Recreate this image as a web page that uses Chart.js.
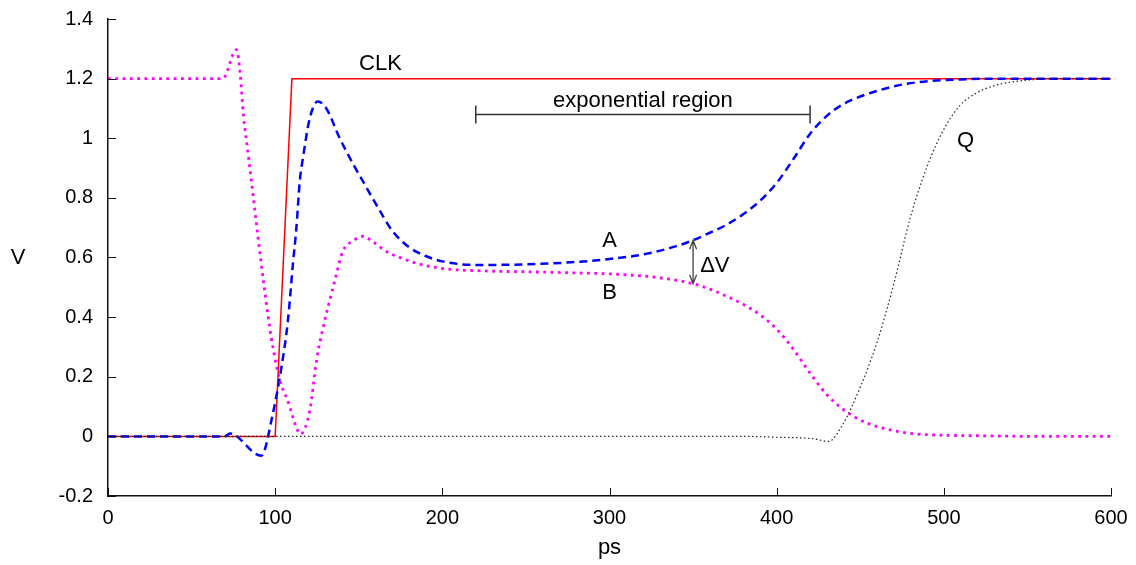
<!DOCTYPE html>
<html>
<head>
<meta charset="utf-8">
<script src="https://cdn.jsdelivr.net/npm/chart.js@4/dist/chart.umd.min.js"></script>
<style>
  html, body { margin: 0; padding: 0; background: #fff; }
  #wrap { width: 1136px; height: 565px; }
</style>
</head>
<body>
<div id="wrap"><canvas id="myChart"></canvas></div>
<script>
// time axis (ps) and voltages (V) of each node
const clkT = [0, 100, 110, 600];
const clkV = [0, 0, 1.2, 1.2];

const aT = [0, 70, 72.8, 91.7, 98.6, 103.7, 107.6, 110.6, 112.7, 114.7, 116.6, 120.7, 125.5, 130.6, 138.6, 146.5, 154.6, 162.6, 170, 180, 190, 200, 220, 250, 280, 300, 320, 340, 350, 360, 370, 380, 390, 400, 410, 420, 430, 440, 450, 462, 475, 492, 510, 530, 560, 600];
const aV = [0, 0, 0.01, -0.065, 0.076, 0.23, 0.387, 0.577, 0.70, 0.855, 0.933, 1.067, 1.123, 1.10, 1.0, 0.915, 0.835, 0.757, 0.69, 0.635, 0.605, 0.587, 0.575, 0.577, 0.585, 0.595, 0.61, 0.638, 0.658, 0.683, 0.71, 0.745, 0.79, 0.85, 0.93, 1.015, 1.075, 1.115, 1.14, 1.162, 1.18, 1.192, 1.197, 1.2, 1.2, 1.2];

const bT = [0, 68.6, 76.8, 79, 81, 84, 87, 89.5, 93.7, 97.7, 102.7, 107.5, 112.7, 115, 120.7, 124.7, 129.6, 135.6, 140.4, 146.4, 152.4, 158, 166.6, 174.6, 185, 200, 225, 250, 275, 300, 320, 335, 350, 360, 370, 380, 390, 400, 410, 420, 430, 440, 450, 462, 482, 522, 560, 600];
const bV = [1.2, 1.2, 1.297, 1.22, 1.08, 0.94, 0.80, 0.68, 0.49, 0.33, 0.19, 0.12, 0.03, 0.008, 0.086, 0.253, 0.387, 0.52, 0.62, 0.655, 0.671, 0.655, 0.62, 0.6, 0.58, 0.563, 0.555, 0.552, 0.549, 0.545, 0.538, 0.528, 0.512, 0.494, 0.47, 0.443, 0.408, 0.36, 0.292, 0.212, 0.14, 0.09, 0.055, 0.03, 0.009, 0.002, 0, 0];

const qT = [0, 380, 400, 422, 431, 440, 450, 460, 470, 480, 490, 500, 510, 520, 530, 545, 570, 600];
const qV = [0, 0, -0.003, -0.008, -0.017, 0.045, 0.165, 0.315, 0.51, 0.735, 0.905, 1.03, 1.112, 1.153, 1.176, 1.192, 1.2, 1.2];

const xTicks = [0, 100, 200, 300, 400, 500, 600];
const yTicks = [-0.2, 0, 0.2, 0.4, 0.6, 0.8, 1, 1.2, 1.4];

// text notes in data coordinates
const notes = [
  { text: 'CLK', x: 163, y: 1.25 },
  { text: 'exponential region', x: 320, y: 1.126 },
  { text: 'A', x: 300, y: 0.655 },
  { text: 'B', x: 300, y: 0.48 },
  { text: 'ΔV', x: 363, y: 0.571 },
  { text: 'Q', x: 513, y: 0.992 },
];
const regionBar = { from: 220, to: 420, y: 1.08 };
const deltaV = { x: 350, top: 0.658, bottom: 0.512 };

const FAMILY = '"Liberation Sans", Arial, Helvetica, sans-serif';
const NOTE_FONT = '22px ' + FAMILY;

const pts = (t, v) => t.map((x, i) => ({ x: x, y: v[i] }));

const extras = {
  id: 'extras',
  afterDatasetsDraw(chart) {
    const { ctx, chartArea, scales: { x, y } } = chart;
    ctx.save();

    // inward tick marks
    ctx.strokeStyle = '#111';
    ctx.lineWidth = 1;
    ctx.beginPath();
    yTicks.forEach(v => {
      const py = Math.round(y.getPixelForValue(v)) + 0.5;
      ctx.moveTo(chartArea.left, py);
      ctx.lineTo(chartArea.left + 8, py);
    });
    xTicks.forEach(v => {
      const px = Math.round(x.getPixelForValue(v)) + 0.5;
      ctx.moveTo(px, chartArea.bottom);
      ctx.lineTo(px, chartArea.bottom - 8);
    });
    ctx.stroke();

    // text notes
    ctx.fillStyle = '#000';
    ctx.font = NOTE_FONT;
    ctx.textAlign = 'center';
    ctx.textBaseline = 'middle';
    notes.forEach(n => ctx.fillText(n.text, x.getPixelForValue(n.x), y.getPixelForValue(n.y)));

    // axis titles
    ctx.fillText('V', 18, y.getPixelForValue(0.6));
    ctx.fillText('ps', x.getPixelForValue(300), 548);

    // exponential region bar
    const x1 = x.getPixelForValue(regionBar.from);
    const x2 = x.getPixelForValue(regionBar.to);
    const yb = y.getPixelForValue(regionBar.y);
    ctx.strokeStyle = '#333';
    ctx.lineWidth = 1.5;
    ctx.beginPath();
    ctx.moveTo(x1, yb); ctx.lineTo(x2, yb);
    ctx.moveTo(x1, yb - 9); ctx.lineTo(x1, yb + 9);
    ctx.moveTo(x2, yb - 9); ctx.lineTo(x2, yb + 9);
    ctx.stroke();

    // delta V double arrow
    const ax = x.getPixelForValue(deltaV.x);
    const at = y.getPixelForValue(deltaV.top);
    const ab = y.getPixelForValue(deltaV.bottom);
    ctx.strokeStyle = '#444';
    ctx.lineWidth = 1.3;
    ctx.beginPath();
    ctx.moveTo(ax, at); ctx.lineTo(ax, ab);
    ctx.moveTo(ax - 3.5, at + 9); ctx.lineTo(ax, at); ctx.lineTo(ax + 3.5, at + 9);
    ctx.moveTo(ax - 3.5, ab - 9); ctx.lineTo(ax, ab); ctx.lineTo(ax + 3.5, ab - 9);
    ctx.stroke();

    ctx.restore();
  }
};

new Chart(document.getElementById('myChart'), {
  type: 'line',
  data: {
    datasets: [
      {
        label: 'CLK',
        data: pts(clkT, clkV),
        borderColor: '#ff0000',
        borderWidth: 1.5,
        tension: 0,
        order: 4,
      },
      {
        label: 'A',
        data: pts(aT, aV),
        borderColor: '#0000ff',
        borderWidth: 2.5,
        borderDash: [8, 5],
        cubicInterpolationMode: 'monotone',
        order: 3,
      },
      {
        label: 'B',
        data: pts(bT, bV),
        borderColor: '#ff00ff',
        borderWidth: 2.8,
        borderDash: [2.8, 4.5],
        cubicInterpolationMode: 'monotone',
        order: 2,
      },
      {
        label: 'Q',
        data: pts(qT, qV),
        borderColor: '#222',
        borderWidth: 1.2,
        borderDash: [1.5, 2.5],
        cubicInterpolationMode: 'monotone',
        order: 1,
      },
    ]
  },
  options: {
    responsive: true,
    maintainAspectRatio: false,
    animation: false,
    events: [],
    layout: { padding: { top: 19, right: 25, left: 0, bottom: 0 } },
    elements: { point: { radius: 0 } },
    plugins: { legend: { display: false }, tooltip: { enabled: false } },
    scales: {
      x: {
        type: 'linear',
        min: 0,
        max: 600,
        afterBuildTicks: s => { s.ticks = xTicks.map(v => ({ value: v })); },
        afterFit: s => { s.height = 69; s.paddingLeft = 0; s.paddingRight = 0; },
        grid: { display: false, drawTicks: false },
        border: { display: true, color: '#111', width: 1.5 },
        ticks: { color: '#000', font: { family: FAMILY, size: 20 }, padding: 10, maxRotation: 0 },
      },
      y: {
        type: 'linear',
        min: -0.2,
        max: 1.4,
        afterBuildTicks: s => { s.ticks = yTicks.map(v => ({ value: v })); },
        afterFit: s => { s.width = 108; s.paddingTop = 0; s.paddingBottom = 0; },
        grid: { display: false, drawTicks: false },
        border: { display: true, color: '#111', width: 1.5 },
        ticks: {
          color: '#000',
          font: { family: FAMILY, size: 20 },
          padding: 15,
          callback: v => String(Math.round(v * 10) / 10),
        },
      }
    }
  },
  plugins: [extras]
});
</script>
</body>
</html>
